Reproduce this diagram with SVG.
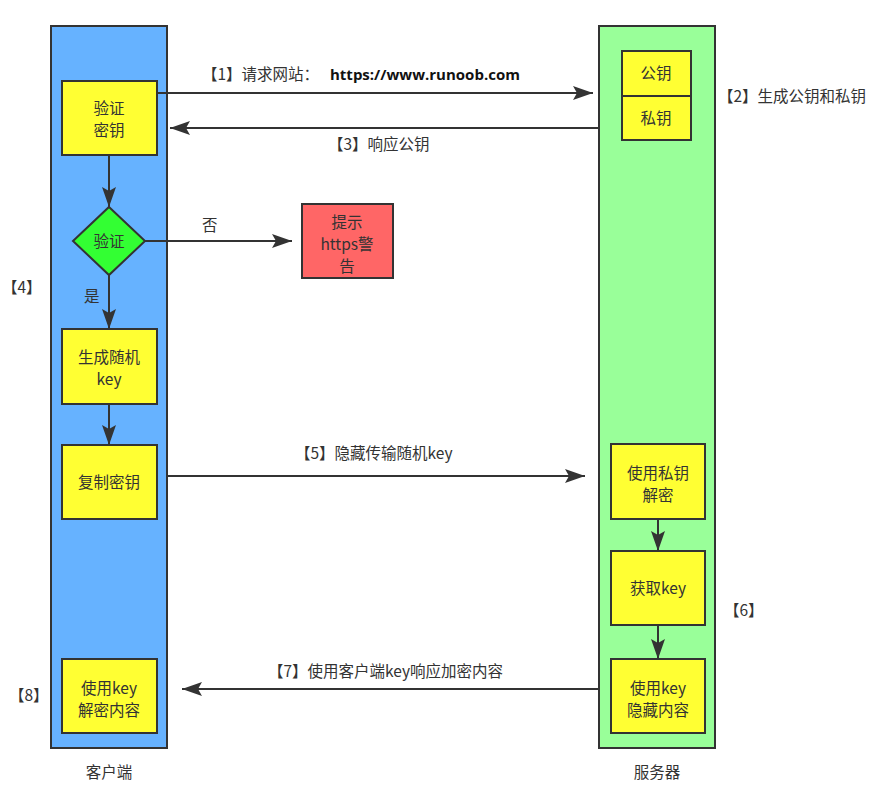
<svg xmlns="http://www.w3.org/2000/svg" width="894" height="800" viewBox="0 0 894 800">
<defs>
<marker id="ahb" viewBox="0 0 20 14" refX="20" refY="7" markerWidth="20" markerHeight="14" markerUnits="userSpaceOnUse" orient="auto">
<path d="M0,0 L20,7 L0,14 L4,7 z" fill="#333"/>
</marker>
<style>
.lane{stroke:#333;stroke-width:2}
.box{fill:#ffff33;stroke:#333;stroke-width:2}
text{font-family:"Noto Sans CJK SC","Noto Sans",sans-serif;font-size:15.5px;fill:#333}
.c{text-anchor:middle}
.con{stroke:#333;stroke-width:2;fill:none;marker-end:url(#ahb)}
</style>
</defs>
<rect width="894" height="800" fill="#fff"/>
<g id="client">
<rect class="lane" x="51" y="26" width="116" height="722" fill="#66b2ff"/>
<text class="c" x="109" y="778">客户端</text>
</g>
<g id="server">
<rect class="lane" x="599" y="26" width="116" height="722" fill="#99ff99"/>
<text class="c" x="657" y="778">服务器</text>
</g>
<g id="verifyKey">
<rect class="box" x="62" y="81" width="95" height="74"/>
<text class="c" x="109" y="114">验证</text>
<text class="c" x="109" y="136">密钥</text>
</g>
<g id="verify">
<polygon points="109,207 145,241 109,275 73,241" fill="#33ff33" stroke="#333" stroke-width="2"/>
<text class="c" x="109" y="247">验证</text>
</g>
<g id="warn">
<rect x="302" y="204" width="91" height="74" fill="#ff6666" stroke="#333" stroke-width="2"/>
<text class="c" x="347" y="228">提示</text>
<text class="c" x="347" y="250">https警</text>
<text class="c" x="347" y="272">告</text>
</g>
<g id="genKey">
<rect class="box" x="62" y="329" width="95" height="75"/>
<text class="c" x="109" y="363">生成随机</text>
<text class="c" x="109" y="385">key</text>
</g>
<g id="copyKey">
<rect class="box" x="62" y="445" width="95" height="74"/>
<text class="c" x="109" y="488">复制密钥</text>
</g>
<g id="decryptContent">
<rect class="box" x="62" y="659" width="95" height="74"/>
<text class="c" x="109" y="694">使用key</text>
<text class="c" x="109" y="716">解密内容</text>
</g>
<g id="pubKey">
<rect class="box" x="622" y="51" width="69" height="45"/>
<text class="c" x="656" y="79">公钥</text>
</g>
<g id="privKey">
<rect class="box" x="622" y="96" width="69" height="44"/>
<text class="c" x="656" y="124">私钥</text>
</g>
<g id="decrypt">
<rect class="box" x="611" y="444" width="94" height="75"/>
<text class="c" x="658" y="479">使用私钥</text>
<text class="c" x="658" y="501">解密</text>
</g>
<g id="getKey">
<rect class="box" x="611" y="551" width="94" height="74"/>
<text class="c" x="658" y="594">获取key</text>
</g>
<g id="encrypt">
<rect class="box" x="611" y="659" width="94" height="74"/>
<text class="c" x="658" y="694">使用key</text>
<text class="c" x="658" y="716">隐藏内容</text>
</g>
<g id="connectors">
<line class="con" x1="157" y1="93" x2="593" y2="93"/>
<line class="con" x1="599" y1="128" x2="170" y2="128"/>
<line class="con" x1="109" y1="155" x2="109" y2="207"/>
<line class="con" x1="145" y1="241" x2="292" y2="241"/>
<line class="con" x1="109" y1="275" x2="109" y2="329"/>
<line class="con" x1="109" y1="404" x2="109" y2="445"/>
<line class="con" x1="167" y1="476" x2="585" y2="476"/>
<line class="con" x1="658" y1="519" x2="658" y2="551"/>
<line class="con" x1="658" y1="625" x2="658" y2="659"/>
<line class="con" x1="599" y1="689" x2="182" y2="689"/>
</g>
<g id="labels">
<text x="202" y="80">【1】请求网站：<tspan x="330" font-weight="bold" fill="#111" font-size="15" font-family="'Open Sans',sans-serif">https://www.runoob.com</tspan></text>
<text x="718" y="102">【2】生成公钥和私钥</text>
<text x="328" y="150">【3】响应公钥</text>
<text x="2" y="293">【4】</text>
<text x="84" y="302">是</text>
<text x="202" y="231">否</text>
<text x="295" y="459">【5】隐藏传输随机key</text>
<text x="724" y="616">【6】</text>
<text x="268" y="677">【7】使用客户端key响应加密内容</text>
<text x="9" y="701">【8】</text>
</g>
</svg>
